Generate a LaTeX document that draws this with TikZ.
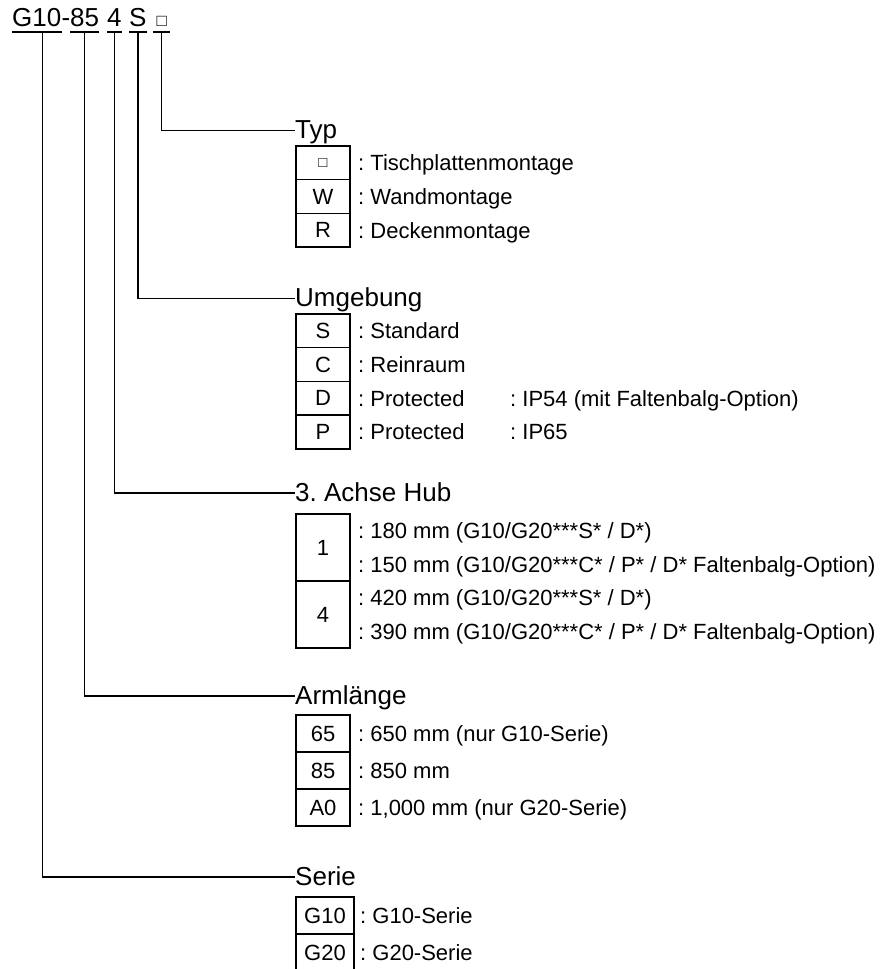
\documentclass[tikz,border=0pt]{standalone}
\usepackage{fontspec}
\setmainfont{Liberation Sans}
\usetikzlibrary{positioning}

\newcommand{\codefont}{\fontsize{26}{30}\selectfont}
\newcommand{\rowfont}{\fontsize{22}{26}\selectfont}
\newcommand{\smallsq}[1]{{\fontsize{#1}{#1}\selectfont □}}
\frenchspacing

\begin{document}
\begin{tikzpicture}[
    x=1pt, y=-1pt,
    code/.style={anchor=base west, inner sep=0pt, font=\codefont},
    uline/.style={line width=1.8pt},
    conn/.style={line width=1.3pt},
    group/.style={anchor=base west, inner sep=0pt, font=\codefont},
    cell/.style={draw, line width=1.6pt, minimum width=54pt, minimum height=33.7pt, inner sep=0pt, font=\rowfont},
    wcell/.style={cell, minimum width=58pt, minimum height=37pt},
    desc/.style={anchor=base west, inner sep=0pt, font=\rowfont}
  ]
    \clip (0,0) rectangle (891,969);

    % model code
    \node[code] (ser) at (12,27) {G10};
    \node[code] (dsh) at (ser.base east) {-};
    \node[code] (arm) at (70,27) {85};
    \node[code] (hub) at (107,27) {4};
    \node[code] (umg) at (129,27) {S};
    \node[code, minimum width=17pt] (typ) at (153,27) {\smallsq{17}};

    \draw[uline] ([yshift=-5pt]ser.base west) -- ([yshift=-5pt]ser.base east);
    \draw[uline] ([yshift=-5pt]arm.base west) -- ([yshift=-5pt]arm.base east);
    \draw[uline] ([yshift=-5pt]hub.base west) -- ([yshift=-5pt]hub.base east);
    \draw[uline] ([yshift=-5pt]umg.base west) -- ([yshift=-5pt]umg.base east);
    \draw[uline] ([yshift=-5pt]typ.base west) -- ([yshift=-5pt]typ.base east);

    % ends of the leader lines
    \coordinate (typEnd) at (295,130.7);
    \coordinate (umgEnd) at (295,298.5);
    \coordinate (hubEnd) at (295,493);
    \coordinate (armEnd) at (295,696);
    \coordinate (serEnd) at (295,877);

    \node[group] (typLbl) at ([yshift=-8pt]typEnd) {Typ};
    \node[group] (umgLbl) at ([yshift=-8pt]umgEnd) {Umgebung};
    \node[group] (hubLbl) at ([yshift=-8pt]hubEnd) {3. Achse Hub};
    \node[group] (armLbl) at ([yshift=-8pt]armEnd) {Armlänge};
    \node[group] (serLbl) at ([yshift=-8pt]serEnd) {Serie};

    \draw[conn] ([yshift=-5pt]typ.base) |- (typEnd);
    \draw[conn] ([yshift=-5pt]umg.base) |- (umgEnd);
    \draw[conn] ([yshift=-5pt]hub.base) |- (hubEnd);
    \draw[conn] ([yshift=-5pt]arm.base) |- (armEnd);
    \draw[conn] ([shift={(5.5pt,-5pt)}]ser.base) |- (serEnd);

    % Typ
    \node[cell] (typA) at (323,162.8) {\smallsq{15}};
    \node[cell] (typW) at (323,196.5) {W};
    \node[cell] (typR) at (323,230.2) {R};
    \node[desc] (typAtxt) at (358,170.7) {: Tischplattenmontage};
    \node[desc] (typWtxt) at (358,204.4) {: Wandmontage};
    \node[desc] (typRtxt) at (358,238.1) {: Deckenmontage};

    % Umgebung
    \node[cell] (umgS) at (323,330.8) {S};
    \node[cell] (umgC) at (323,364.5) {C};
    \node[cell] (umgD) at (323,398.2) {D};
    \node[cell] (umgP) at (323,431.9) {P};
    \node[desc] (umgStxt) at (358,338.7) {: Standard};
    \node[desc] (umgCtxt) at (358,372.4) {: Reinraum};
    \node[desc] (umgDtxt) at (358,406.1) {: Protected};
    \node[desc] (umgPtxt) at (358,439.8) {: Protected};
    \node[desc] (umgDip) at (510,406.1) {: IP54 (mit Faltenbalg-Option)};
    \node[desc] (umgPip) at (510,439.8) {: IP65};

    % 3. Achse Hub
    \node[cell, minimum height=67pt] (hub1) at (323,547.5) {1};
    \node[cell, minimum height=67pt] (hub4) at (323,614.5) {4};
    \node[desc] (hub1a) at (358,538.6) {: 180 mm (G10/G20***S* / D*)};
    \node[desc] (hub1b) at (358,572.1) {: 150 mm (G10/G20***C* / P* / D* Faltenbalg-Option)};
    \node[desc] (hub4a) at (358,605.6) {: 420 mm (G10/G20***S* / D*)};
    \node[desc] (hub4b) at (358,639.1) {: 390 mm (G10/G20***C* / P* / D* Faltenbalg-Option)};

    % Armlaenge
    \node[cell, minimum height=37pt] (arm65) at (323,733.5) {65};
    \node[cell, minimum height=37pt] (arm85) at (323,770.5) {85};
    \node[cell, minimum height=37pt] (armA0) at (323,807.5) {A0};
    \node[desc] (arm65txt) at (358,741.4) {: 650 mm (nur G10-Serie)};
    \node[desc] (arm85txt) at (358,778.4) {: 850 mm};
    \node[desc] (armA0txt) at (358,815.4) {: 1,000 mm (nur G20-Serie)};

    % Serie
    \node[wcell] (ser10) at (325,915.5) {G10};
    \node[wcell] (ser20) at (325,952.5) {G20};
    \node[desc] (ser10txt) at (360,923.4) {: G10-Serie};
    \node[desc] (ser20txt) at (360,960.4) {: G20-Serie};
  \end{tikzpicture}
\end{document}
